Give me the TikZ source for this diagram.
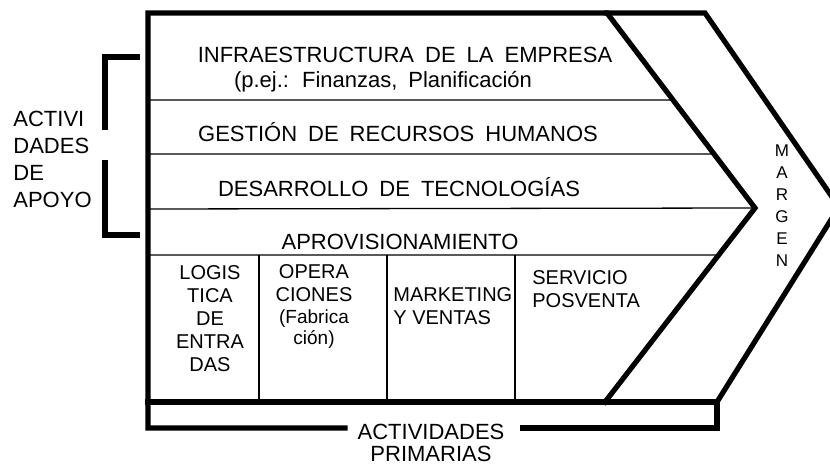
\documentclass[tikz,border=0pt]{standalone}
\usepackage{fontspec}
\setmainfont{Liberation Sans}
\usetikzlibrary{calc}
\tikzset{
	frame/.style={line width=2.6pt, line cap=rect, line join=miter},
	sep/.style={line width=0.65pt},
	label/.style={inner sep=0pt, anchor=base, font=\fontsize{11}{13.5}\selectfont,
		execute at begin node={\spaceskip=0.5em\relax}},
	cell/.style={inner sep=0pt, anchor=base, align=center, font=\fontsize{10}{11.5}\selectfont},
	small/.style={font=\fontsize{9.5}{10.5}\selectfont}
}

\begin{document}
\begin{tikzpicture}[x=0.5pt, y=-0.5pt]
			\useasboundingbox (0,0) rectangle (830,464);
			\clip (0,0) rectangle (830,464);

			% Corners of the chain
			\coordinate (tl) at (148,13);
			\coordinate (tm) at (607,13);
			\coordinate (tr) at (705,13);
			\coordinate (tip) at (755,208);
			\coordinate (otip) at (839,207);
			\coordinate (bm) at (605,402);
			\coordinate (br) at (717,402);
			\coordinate (bl) at (148,402);

			% Draw the frame and the margin chevron
			\draw[frame] (345,428) -- (148,428) -- (tl) -- (tm) -- (tip) -- (bm);
			\draw[frame] (bl) -- (br) -- (717,428) -- (523,428);
			\draw[frame] (tm) -- (tr) -- (otip) -- (br);

			% Bracket of the support activities
			\draw[frame] (137,57) -- (105,57) -- (105,127);
			\draw[frame] (105,163) -- (105,235) -- (137,235);

			% Rows of the support activities
			\draw[sep] (150,100) -- ($(tm)!0.446!(tip)$);
			\draw[sep] (150,154) -- ($(tm)!0.723!(tip)$);
			\draw[sep] (150,209) -- (tip);
			\draw[sep] (150,255) -- ($(tip)!0.242!(bm)$);

			% Columns of the primary activities
			\foreach \x in {259,387,515}
				\draw[sep] (\x,255) -- (\x,402);

			% Support activities
			\node[label] (infra) at (405,63) {INFRAESTRUCTURA DE LA EMPRESA};
			\node[label] (pej) at (383,88) {(p.ej.: Finanzas, Planificación};
			\node[label] (rrhh) at (398,142) {GESTIÓN DE RECURSOS HUMANOS};
			\node[label] (tec) at (399,197) {DESARROLLO DE TECNOLOGÍAS};
			\node[label] (aprov) at (400,250) {APROVISIONAMIENTO};

			% Primary activities (base = last line)
			\node[cell] (log) at (210,372) {LOGIS\\TICA\\DE\\ENTRA\\DAS};
			\node[cell] (ops) at (314,302) {OPERA\\CIONES};
			\node[cell, small] (fab) at (314,345) {(Fabrica\\ción)};
			\node[cell, anchor=base west, align=left] (mkt) at (393,325) {MARKETING\\Y VENTAS};
			\node[cell, anchor=base west, align=left] (serv) at (532,308) {SERVICIO\\POSVENTA};

			% Margin
			\node[cell, font=\fontsize{8.5}{11}\selectfont] (margen) at (782,267) {M\\A\\R\\G\\E\\N};

			% Group labels
			\node[label, anchor=base west, align=left] (apoyo) at (13,208) {ACTIVI\\DADES\\DE\\APOYO};
			\node[label, align=center, font=\fontsize{11}{11}\selectfont] (prim) at (431,462) {ACTIVIDADES\\PRIMARIAS};
		\end{tikzpicture}
\end{document}
